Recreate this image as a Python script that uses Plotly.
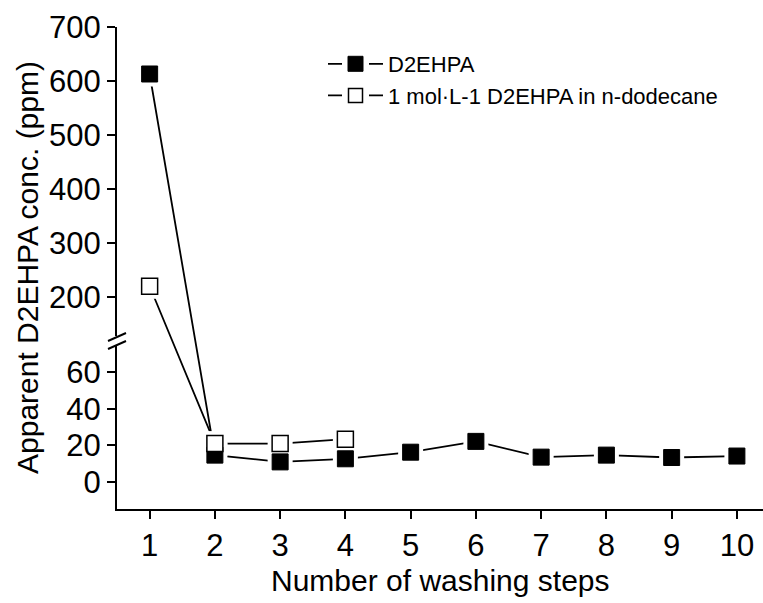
import plotly.graph_objects as go

# ---- data ----
steps = [1, 2, 3, 4, 5, 6, 7, 8, 9, 10]
d2ehpa = [613, 14.7, 11, 12.7, 16.3, 22.2, 13.6, 14.7, 13.4, 14.2]
steps_dodecane = [1, 2, 3, 4]
dodecane = [220, 21, 21, 23.4]

series_names = ["D2EHPA", "1 mol\u00b7L-1 D2EHPA in n-dodecane"]
x_ticks = [1, 2, 3, 4, 5, 6, 7, 8, 9, 10]
lower_ticks = [0, 20, 40, 60]
upper_ticks = [200, 300, 400, 500, 600, 700]

# ---- broken y-axis geometry ----
W, H = 763, 603
ML, MR, MT, MB = 117, 0, 27, 94
LO_RANGE = [-14.7, 74.2]
LO_DOM = [0.0, 0.338]
UP_RANGE = [128, 700]
UP_DOM = [0.359, 1.0]


def to_frac(v):
    """Map a data value onto the full-height (broken) axis fraction."""
    if v <= LO_RANGE[1]:
        return LO_DOM[0] + (v - LO_RANGE[0]) / (LO_RANGE[1] - LO_RANGE[0]) * (LO_DOM[1] - LO_DOM[0])
    return UP_DOM[0] + (v - UP_RANGE[0]) / (UP_RANGE[1] - UP_RANGE[0]) * (UP_DOM[1] - UP_DOM[0])


FONT = "Liberation Sans, Arial, sans-serif"
y1f = [to_frac(v) for v in d2ehpa]
y2f = [to_frac(v) for v in dodecane]

fig = go.Figure()

# connecting lines
for xs, ys in [(steps, y1f), (steps_dodecane, y2f)]:
    fig.add_trace(go.Scatter(x=xs, y=ys, mode="lines", yaxis="y3",
                             line=dict(color="black", width=1.8),
                             showlegend=False, hoverinfo="skip"))
# white gaps around markers
for xs, ys in [(steps, y1f), (steps_dodecane, y2f)]:
    fig.add_trace(go.Scatter(x=xs, y=ys, mode="markers", yaxis="y3",
                             marker=dict(symbol="square", size=25, color="white",
                                         line=dict(width=0)),
                             showlegend=False, hoverinfo="skip"))
# markers
fig.add_trace(go.Scatter(x=steps, y=y1f, mode="markers", yaxis="y3",
                         marker=dict(symbol="square", size=16, color="black",
                                     line=dict(color="black", width=1)),
                         showlegend=False))
fig.add_trace(go.Scatter(x=steps_dodecane, y=y2f, mode="markers", yaxis="y3",
                         marker=dict(symbol="square", size=16, color="white",
                                     line=dict(color="black", width=1.5)),
                         showlegend=False))

# legend entries
LEG_DASH = "14px,27px,14px"
fig.add_trace(go.Scatter(x=[None], y=[None], mode="lines+markers", name=series_names[0],
                         line=dict(color="black", width=1.8, dash=LEG_DASH),
                         marker=dict(symbol="square", size=15, color="black",
                                     line=dict(color="black", width=1))))
fig.add_trace(go.Scatter(x=[None], y=[None], mode="lines+markers", name=series_names[1],
                         line=dict(color="black", width=1.8, dash=LEG_DASH),
                         marker=dict(symbol="square", size=14, color="white",
                                     line=dict(color="black", width=1.5))))
# anchors for the visible axes
fig.add_trace(go.Scatter(x=[None], y=[None], yaxis="y", showlegend=False))
fig.add_trace(go.Scatter(x=[None], y=[None], yaxis="y2", showlegend=False))

axis_common = dict(showline=True, linecolor="black", linewidth=2, ticks="outside",
                   ticklen=8, tickwidth=2, tickcolor="black", showgrid=False,
                   zeroline=False, tickfont=dict(family=FONT, size=31, color="black"))

fig.update_layout(
    width=W, height=H, autosize=False,
    margin=dict(l=ML, r=MR, t=MT, b=MB),
    paper_bgcolor="white", plot_bgcolor="white",
    xaxis=dict(range=[0.5, 10.4], tickvals=x_ticks, anchor="y", **axis_common),
    yaxis=dict(range=LO_RANGE, domain=LO_DOM, tickvals=lower_ticks, anchor="x", **axis_common),
    yaxis2=dict(range=UP_RANGE, domain=UP_DOM, tickvals=upper_ticks, anchor="x", **axis_common),
    yaxis3=dict(range=[0, 1], domain=[0, 1], anchor="x", visible=False),
    showlegend=True,
    legend=dict(x=(323 - ML) / (W - ML), y=(H - MB - 43) / (H - MT - MB), xanchor="left", yanchor="top",
                font=dict(family=FONT, size=22, color="black"), bgcolor="rgba(0,0,0,0)",
                itemwidth=55, tracegroupgap=0),
)

# axis titles
fig.add_annotation(text="Number of washing steps", xref="paper", yref="paper",
                   x=0.5, y=-(580 - (H - MB)) / (H - MT - MB), xanchor="center", yanchor="middle",
                   showarrow=False, font=dict(family=FONT, size=30, color="black"))
fig.add_annotation(text="Apparent D2EHPA conc. (ppm)", xref="paper", yref="paper",
                   x=(27 - ML) / (W - ML), y=0.5, xanchor="center", yanchor="middle", textangle=-90,
                   showarrow=False, font=dict(family=FONT, size=30, color="black"))

# break marks on the y axis
def px(xp):
    return (xp - ML) / (W - ML)


def py(yp):
    return (H - MB - yp) / (H - MT - MB)


for yc in (337, 345):
    fig.add_shape(type="line", xref="paper", yref="paper",
                  x0=px(108), y0=py(yc + 4), x1=px(126), y1=py(yc - 4),
                  line=dict(color="black", width=2))

fig.write_html("out.html")
